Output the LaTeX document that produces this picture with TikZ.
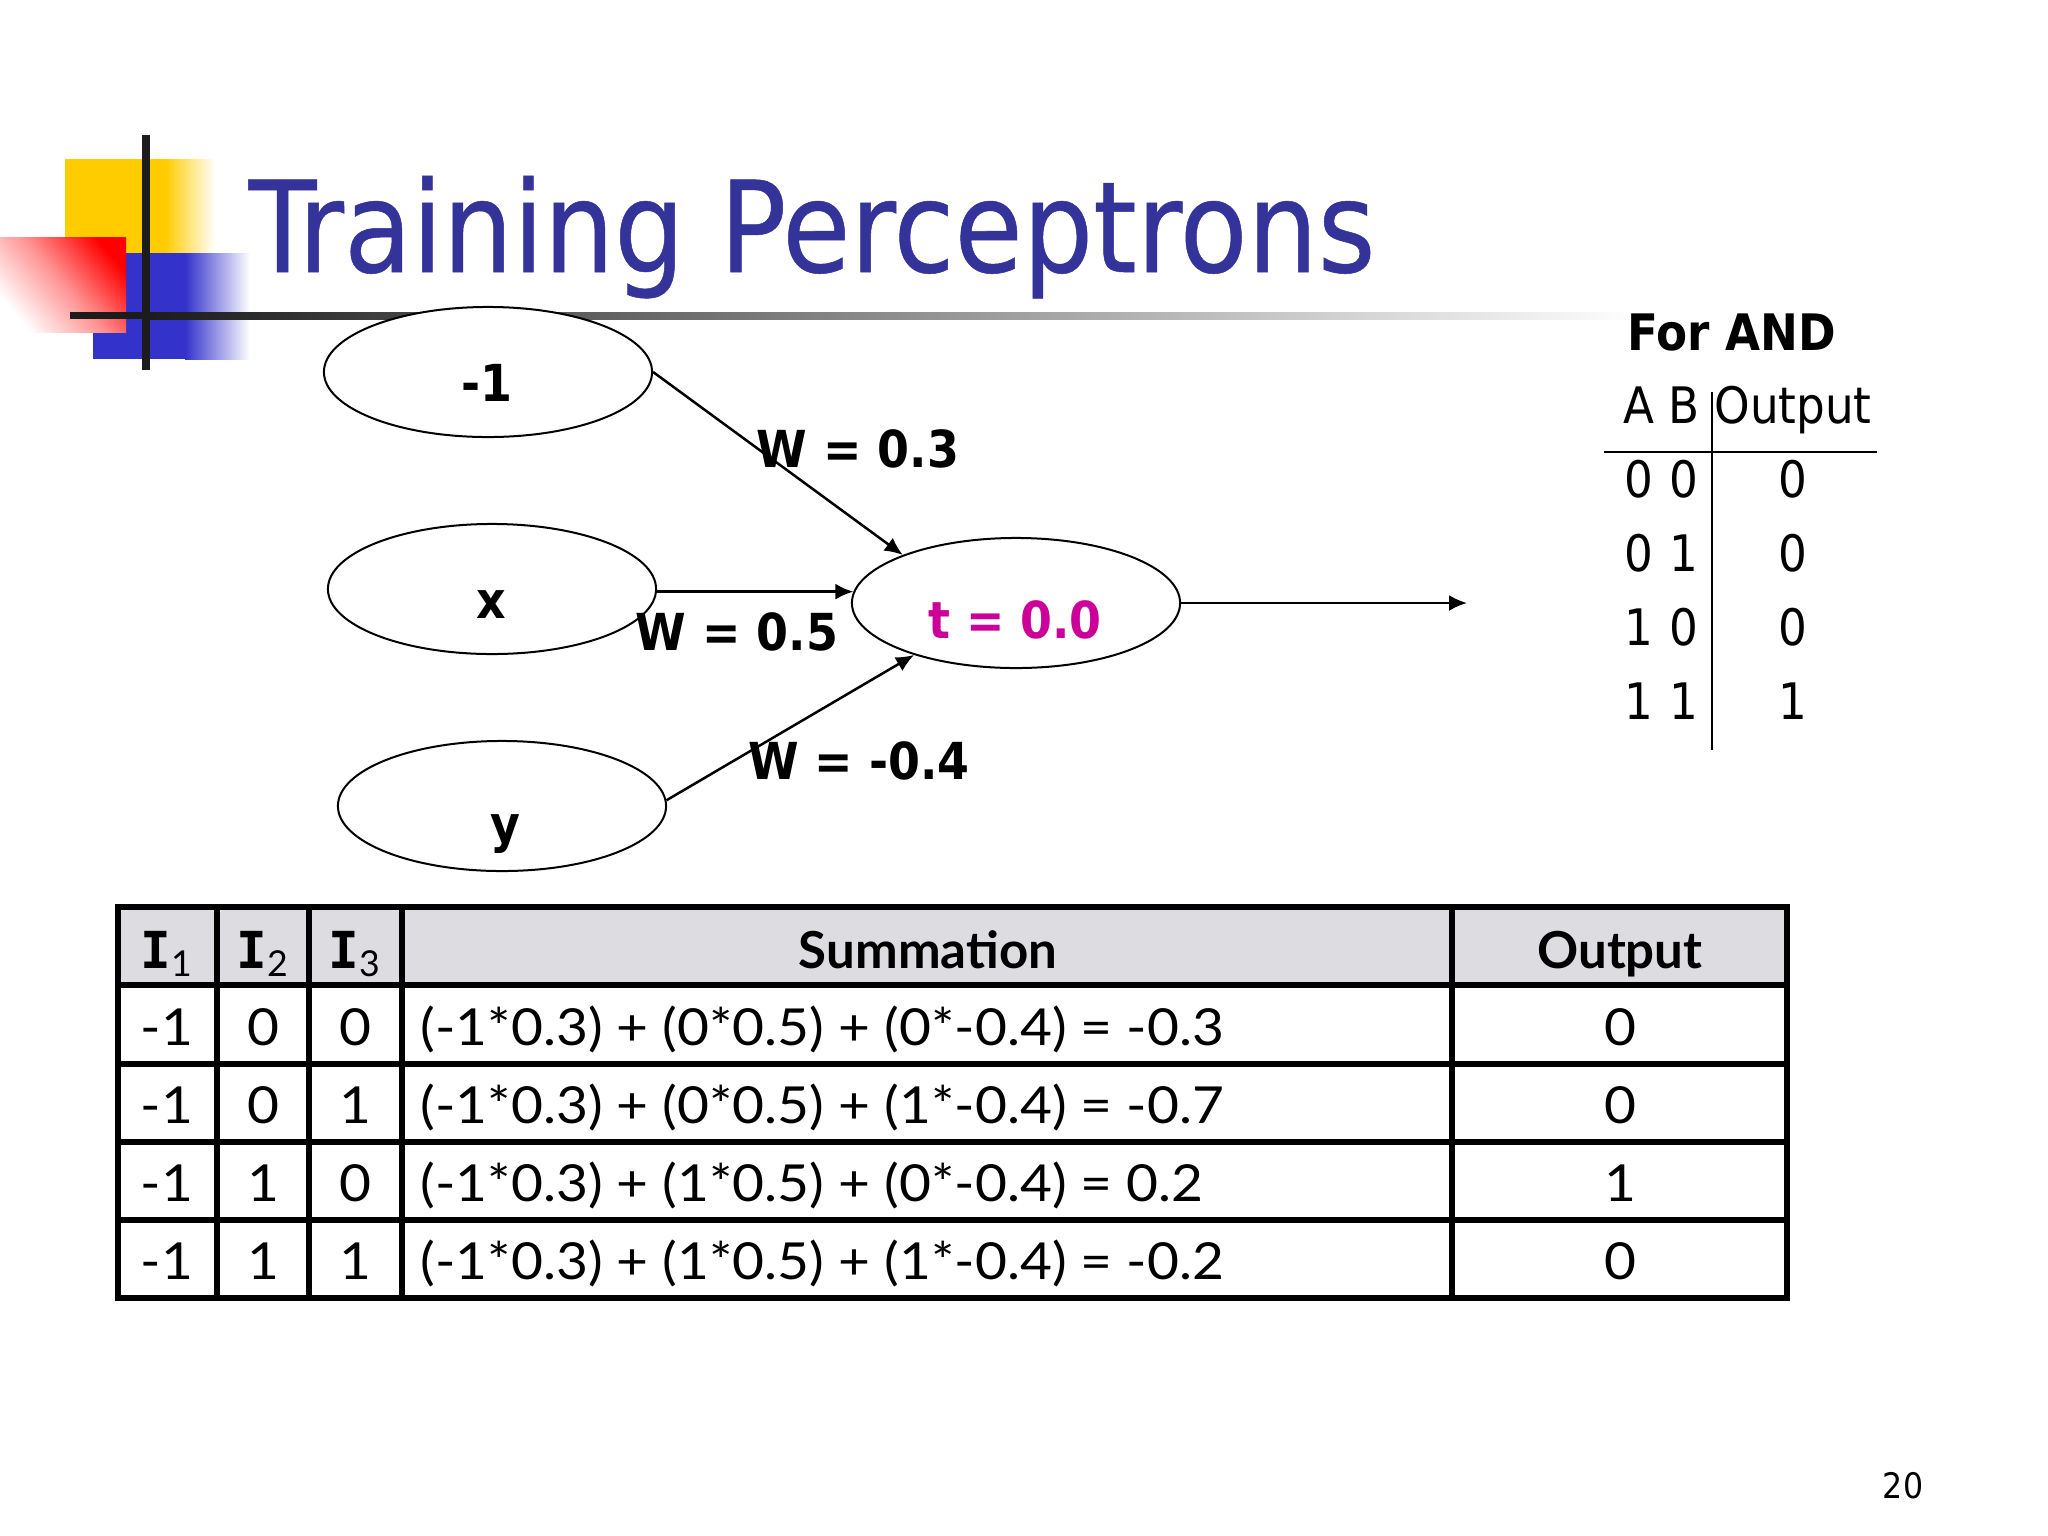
\documentclass[tikz,border=0pt]{standalone}
\usepackage{fontspec}
\usetikzlibrary{arrows,shapes,arrows.meta}
\setmainfont{DejaVu Sans Condensed}
\newfontfamily\titlefont[FakeStretch=0.974,FakeBold=0.4]{DejaVu Sans Condensed}
\newfontfamily\cellfont[FakeStretch=1.08]{Lato}
\newfontfamily\headfont{Lato}
\newfontfamily\inputfont{DejaVu Sans Mono}
\definecolor{titleblue}{HTML}{333399}
\definecolor{logoyellow}{HTML}{FFCC00}
\definecolor{logoblue}{HTML}{3333CC}
\definecolor{barblack}{HTML}{1C1C1C}
\definecolor{threshpink}{HTML}{CC0099}
\definecolor{headgrey}{HTML}{DDDDE1}
\tikzstyle{unit}=[ellipse,draw,fill=white,line width=0.02cm,minimum width=3.28cm,minimum height=1.3cm,inner sep=0pt]
\tikzstyle{link}=[draw,line width=0.025cm,-{Latex[length=0.18cm,width=0.16cm]}]
\tikzstyle{weight}=[font=\bfseries\fontsize{14.5pt}{16pt}\selectfont,inner sep=0pt]
\tikzstyle{cell}=[font=\cellfont\fontsize{14.5pt}{16pt}\selectfont,inner sep=0pt,anchor=base]
\tikzstyle{headcell}=[cell,font=\headfont\bfseries\fontsize{14.5pt}{16pt}\selectfont]
\tikzstyle{gridline}=[draw,line width=0.06cm,line cap=rect]
\tikzstyle{truth}=[font=\fontsize{14.3pt}{16pt}\selectfont,inner sep=0pt,anchor=base]
\newcommand{\inputname}[1]{{\inputfont I}\textsubscript{\mdseries #1}}
\begin{document}
\begin{tikzpicture}[x=0.01cm,y=-0.01cm]
    \useasboundingbox (0,0) rectangle (2048,1536);
    \fill[white] (0,0) rectangle (2048,1536);
    % First we draw the corner logo
    \fill[logoyellow] (65,159) rectangle (165,253);
    \shade[left color=logoyellow,right color=white] (165,159) rectangle (215,253);
    \fill[logoblue] (93,253) rectangle (185,359);
    \shade[left color=logoblue,right color=white] (185,253) rectangle (250,359);
    \shade[top color=red,bottom color=white,middle color=red!42,shading angle=-50] (0,237) rectangle (126,332);
    \fill[barblack] (142,135) rectangle (150,370);
    \fill[barblack] (70,312) rectangle (150,319);
    \shade[left color=barblack,right color=white] (150,312) rectangle (1640,319);
    \node[font=\titlefont\fontsize{36pt}{40pt}\selectfont,text=titleblue,inner sep=0pt,anchor=base west] (title) at (248,272) {Training Perceptrons};
    % Then the units
    \foreach \pos/\name in {{(488,372)/minus}, {(492,589)/x}, {(502,806)/y}, {(1016,603)/t}}
        \node[unit] (\name) at \pos {};
    \node[weight] (minuslabel) at (487,383) {-1};
    \node[weight] (xlabel) at (491,605) {x};
    \node[weight] (ylabel) at (505,834) {y};
    \node[weight,text=threshpink] (tlabel) at (1015,620) {t = 0.0};
    \coordinate (out) at (1467,603);
    % Connect units with links
    \path[link] (minus.east) -- (t.157);
    \path[link] (x.east |- t.176) -- (t.176);
    \path[link] (y.2) -- (t.207);
    \path[link] (t.east) -- (out);
    \node[weight] (w1) at (858,449) {W = 0.3};
    \node[weight] (w2) at (737,632) {W = 0.5};
    \node[weight] (w3) at (859,761) {W = -0.4};
    % Truth table for AND
    \node[font=\bfseries\fontsize{14.3pt}{16pt}\selectfont,inner sep=0pt,anchor=base west] (forand) at (1627,350) {For AND};
    \foreach \y/\a/\b/\o/\name in {423/A/B/Output/head, 497/0/0/0/r1, 571/0/1/0/r2, 645/1/0/0/r3, 719/1/1/1/r4}
    {
        \node[truth] (\name a) at (1639,\y) {\a};
        \node[truth] (\name b) at (1684,\y) {\b};
        \node[truth] (\name o) at (1793,\y) {\o};
    }
    \draw[line width=0.02cm] (1604,452) -- (1877,452);
    \draw[line width=0.02cm] (1712,392) -- (1712,750);
    % The summation table
    \fill[headgrey] (118,907) rectangle (1787,985);
    \foreach \x in {118,217,309,402,1452,1787}
        \path[gridline] (\x,907) -- (\x,1298);
    \foreach \y in {907,985,1064,1142,1220,1298}
        \path[gridline] (118,\y) -- (1787,\y);
    \node[headcell] (i1) at (167,968) {\inputname{1}};
    \node[headcell] (i2) at (263,968) {\inputname{2}};
    \node[headcell] (i3) at (355,968) {\inputname{3}};
    \node[headcell] (sumhead) at (928,968) {Summation};
    \node[headcell] (outhead) at (1620,968) {Output};
    \foreach \y/\a/\b/\c/\s/\o/\name in {1045/-1/0/0/{(-1*0.3) + (0*0.5) + (0*-0.4) = -0.3}/0/a, 1123/-1/0/1/{(-1*0.3) + (0*0.5) + (1*-0.4) = -0.7}/0/b, 1201/-1/1/0/{(-1*0.3) + (1*0.5) + (0*-0.4) = 0.2}/1/c, 1279/-1/1/1/{(-1*0.3) + (1*0.5) + (1*-0.4) = -0.2}/0/d}
    {
        \node[cell] (\name 1) at (167,\y) {\a};
        \node[cell] (\name 2) at (263,\y) {\b};
        \node[cell] (\name 3) at (355,\y) {\c};
        \node[cell,anchor=base west] (\name 4) at (420,\y) {\s};
        \node[cell] (\name 5) at (1620,\y) {\o};
    }
    \node[font=\fontsize{10pt}{12pt}\selectfont,inner sep=0pt] (page) at (1903,1486) {20};
\end{tikzpicture}
\end{document}
